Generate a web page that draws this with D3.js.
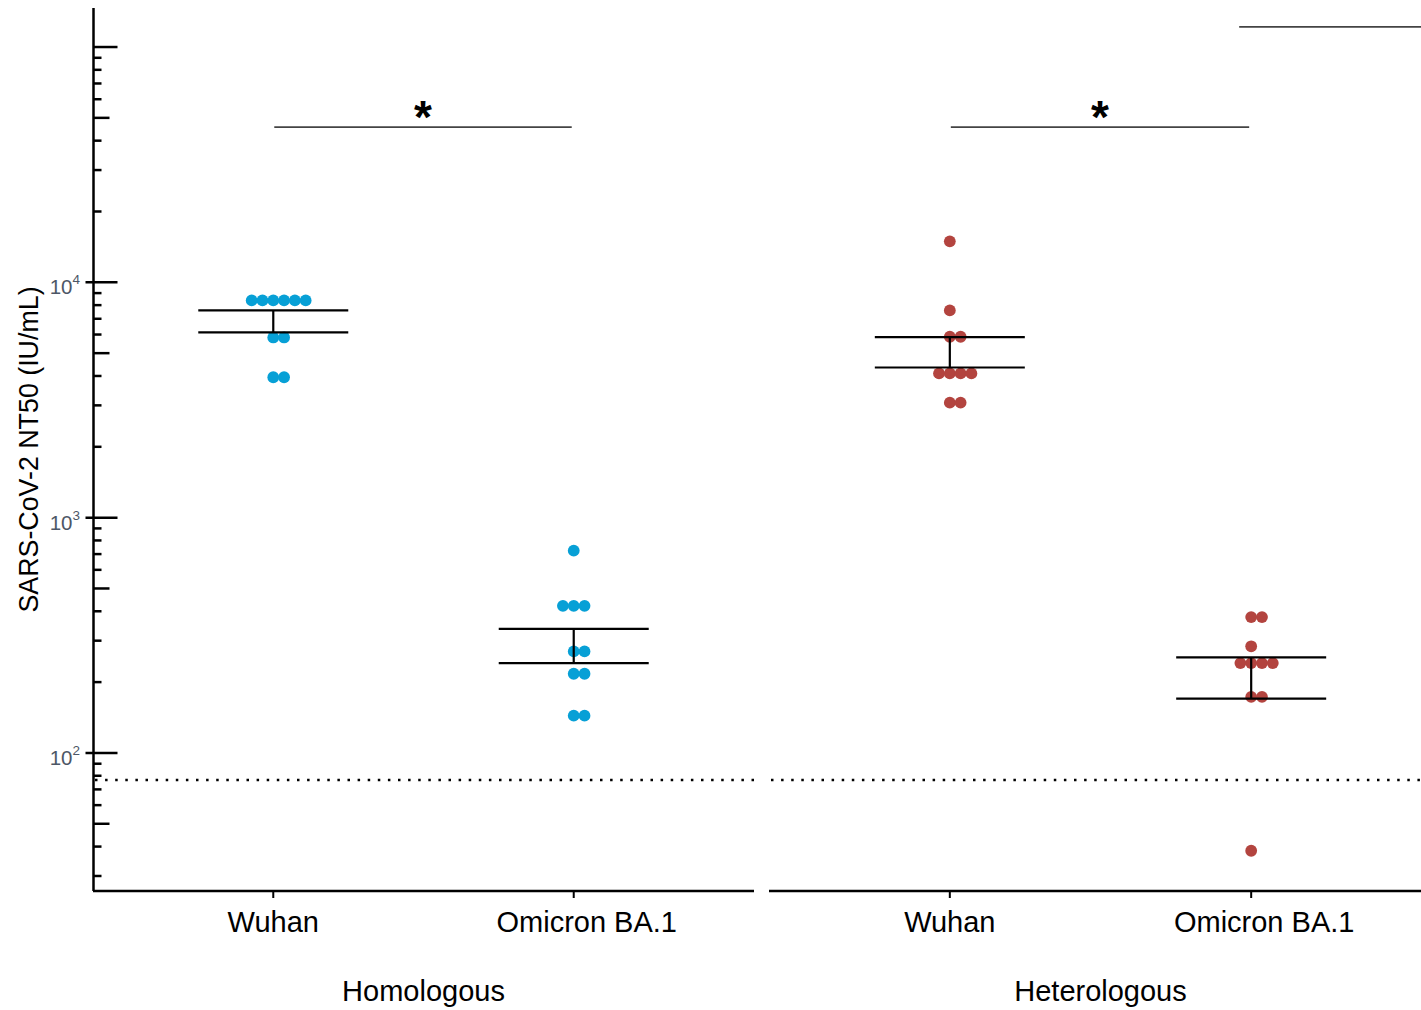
<!DOCTYPE html>
<html>
<head>
<meta charset="utf-8">
<script src="https://cdn.jsdelivr.net/npm/d3@7"></script>
<style>
  body { margin: 0; background: white; }
  text { font-family: "Liberation Sans", Arial, sans-serif; }
</style>
</head>
<body>
<script>
let w = 1421
let h = 1010

// values (IU/mL)
let categories = ["Wuhan", "Omicron BA.1"]
let groups = ["Homologous", "Heterologous"]

let homWuhan = [8380, 8380, 8380, 8380, 8380, 8380, 5830, 5830, 3950, 3950]
let homOmicron = [724, 422, 422, 422, 270, 270, 217, 217, 144, 144]
let hetWuhan = [14930, 7600, 5870, 5870, 4100, 4100, 4100, 4100, 3080, 3080]
let hetOmicron = [378, 378, 284, 241, 241, 241, 241, 173, 173, 38.4]

// error bar ends [low, high]
let homWuhanBar = [6125, 7600]
let homOmicronBar = [241, 337]
let hetWuhanBar = [4346, 5850]
let hetOmicronBar = [170, 255]

let limitOfDetection = 76.7
let sigLevel = 45700
let sigLevelTop = 121700
let majorTicks = [100, 1000, 10000]

let svg = d3.select("body").append("svg")
  .attr("width", w)
  .attr("height", h)

let y = d3.scaleLog()
  .domain([25.9, 146500])
  .range([891, 8])

let panels = [
  {name: groups[0], x0: 93, x1: 754, color: "#07A0D6",
   series: [homWuhan, homOmicron], bars: [homWuhanBar, homOmicronBar]},
  {name: groups[1], x0: 769, x1: 1432, color: "#B3443F",
   series: [hetWuhan, hetOmicron], bars: [hetWuhanBar, hetOmicronBar]}
]

panels.forEach(p => {
  p.x = d3.scalePoint()
    .domain(categories)
    .range([p.x0, p.x1])
    .padding(0.6)
})

// y axis
let yAxis = svg.append("g").attr("transform", "translate(93.5,0)")
yAxis.append("line")
  .attr("y1", 8).attr("y2", 891)
  .attr("stroke", "black").attr("stroke-width", 2.5)

let tickVals = []
for (let k = 1; k <= 5; k++) {
  for (let m = 1; m <= 9; m++) {
    let v = m * Math.pow(10, k)
    if (v >= y.domain()[0] && v <= y.domain()[1]) tickVals.push({v: v, m: m})
  }
}
yAxis.selectAll(".ytick")
  .data(tickVals)
  .enter().append("line")
  .attr("class", "ytick")
  .attr("x1", d => majorTicks.includes(d.v) ? -8 : 0)
  .attr("x2", d => d.m == 1 ? 24 : (d.m == 5 ? 16 : 8))
  .attr("y1", d => y(d.v)).attr("y2", d => y(d.v))
  .attr("stroke", "black").attr("stroke-width", 2.5)

let labels = yAxis.selectAll(".ylab")
  .data(majorTicks)
  .enter().append("text")
  .attr("class", "ylab")
  .attr("x", -13.5)
  .attr("y", d => y(d) + 12)
  .attr("text-anchor", "end")
  .attr("fill", "#4d5766")
  .style("font-size", "20.5px")
labels.append("tspan").text("10")
labels.append("tspan")
  .text(d => Math.round(Math.log10(d)))
  .attr("dy", -10)
  .style("font-size", "13.5px")

svg.append("text")
  .text("SARS-CoV-2 NT50 (IU/mL)")
  .attr("transform", "translate(37.5,449.5) rotate(-90)")
  .attr("text-anchor", "middle")
  .attr("fill", "black")
  .style("font-size", "26.8px")

// panels
panels.forEach(p => {
  let g = svg.append("g")

  g.append("line")
    .attr("x1", p.x0).attr("x2", p.x1)
    .attr("y1", 891).attr("y2", 891)
    .attr("stroke", "black").attr("stroke-width", 2.5)

  g.append("line")
    .attr("x1", p.x0 + 2).attr("x2", p.x1)
    .attr("y1", y(limitOfDetection)).attr("y2", y(limitOfDetection))
    .attr("stroke", "black").attr("stroke-width", 2.5)
    .attr("stroke-dasharray", "2.5 7.6")

  g.selectAll(".xtick")
    .data(categories)
    .enter().append("line")
    .attr("x1", d => p.x(d)).attr("x2", d => p.x(d))
    .attr("y1", 891).attr("y2", 898)
    .attr("stroke", "black").attr("stroke-width", 2)

  // second label sits a little right of its tick in the original
  g.selectAll(".xlab")
    .data(categories)
    .enter().append("text")
    .text(d => d)
    .attr("x", (d, i) => p.x(d) + i * 13)
    .attr("y", 932)
    .attr("text-anchor", "middle")
    .style("font-size", "29px")

  g.append("text")
    .text(p.name)
    .attr("x", (p.x(categories[0]) + p.x(categories[1])) / 2)
    .attr("y", 1001)
    .attr("text-anchor", "middle")
    .style("font-size", "29px")

  // dots, equal values side by side
  p.series.forEach((vals, i) => {
    let cx = p.x(categories[i])
    let byValue = d3.groups(vals, d => d)
    let pts = []
    byValue.forEach(([v, arr]) => {
      let start = Math.floor((arr.length - 1) / 2)
      arr.forEach((d, j) => pts.push({v: v, off: (j - start) * 10.8}))
    })
    g.selectAll(null)
      .data(pts)
      .enter().append("circle")
      .attr("cx", d => cx + d.off)
      .attr("cy", d => y(d.v))
      .attr("r", 5.9)
      .attr("fill", p.color)
  })

  // error bars
  p.bars.forEach((b, i) => {
    let cx = p.x(categories[i])
    g.selectAll(null)
      .data(b)
      .enter().append("line")
      .attr("x1", cx - 75).attr("x2", cx + 75)
      .attr("y1", d => y(d)).attr("y2", d => y(d))
      .attr("stroke", "black").attr("stroke-width", 2.2)
    g.append("line")
      .attr("x1", cx).attr("x2", cx)
      .attr("y1", y(b[0])).attr("y2", y(b[1]))
      .attr("stroke", "black").attr("stroke-width", 2.2)
  })

  // significance
  let xa = p.x(categories[0]) + 1
  let xb = p.x(categories[1]) - 2
  g.append("line")
    .attr("x1", xa).attr("x2", xb)
    .attr("y1", y(sigLevel)).attr("y2", y(sigLevel))
    .attr("stroke", "#444").attr("stroke-width", 1.8)
  g.append("text")
    .text("*")
    .attr("x", (xa + xb) / 2)
    .attr("y", y(sigLevel) + 6)
    .attr("text-anchor", "middle")
    .style("font-size", "46px")
    .style("font-weight", "bold")
})

// comparison bar running off the right edge
let pr = panels[1]
svg.append("line")
  .attr("x1", pr.x(categories[1]) - 12).attr("x2", w)
  .attr("y1", y(sigLevelTop)).attr("y2", y(sigLevelTop))
  .attr("stroke", "#444").attr("stroke-width", 1.8)
</script>
</body>
</html>
